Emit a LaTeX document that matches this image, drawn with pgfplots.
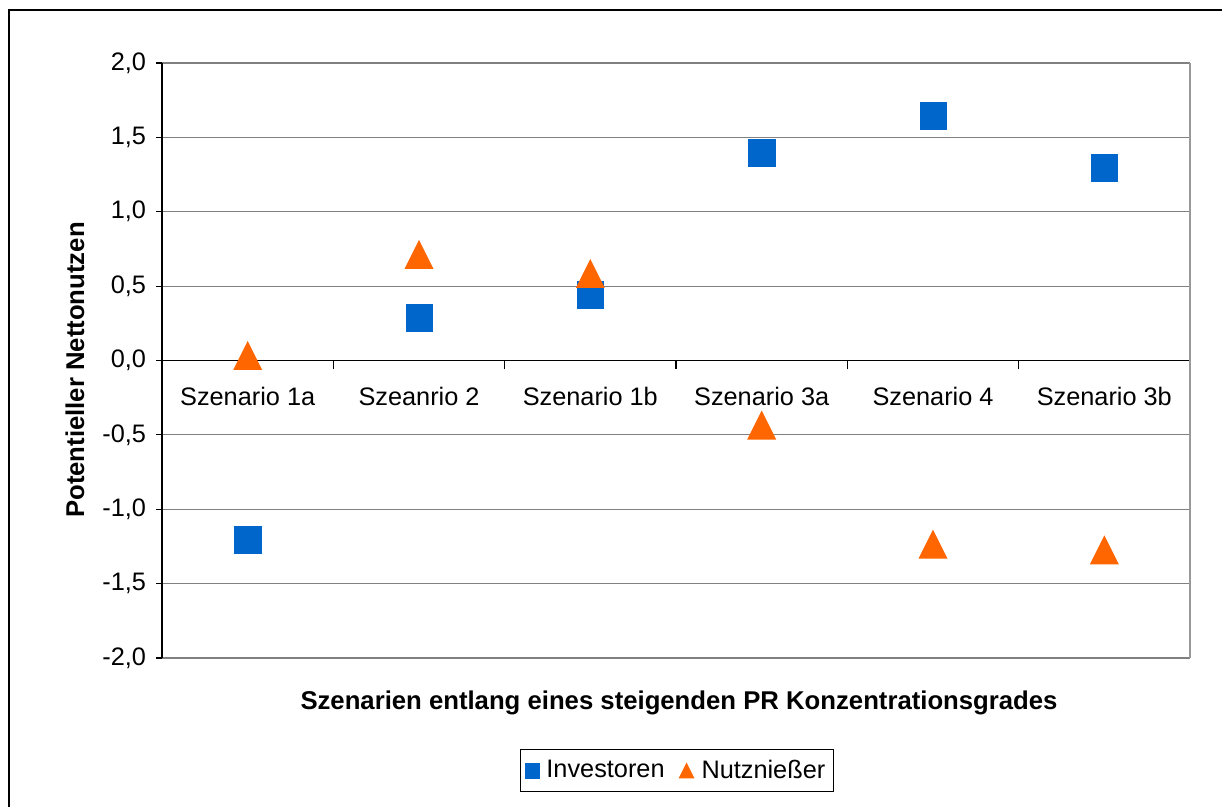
\documentclass[border=0pt]{standalone}
\usepackage{fontspec}
\setmainfont{Liberation Sans}
\usepackage{pgfplots}
\pgfplotsset{compat=1.18}
\definecolor{inv}{HTML}{0066CC}
\definecolor{nut}{HTML}{FF6600}
\definecolor{gridc}{HTML}{808080}
\pgfdeclareplotmark{etri}{%
  \pgfpathmoveto{\pgfqpoint{0pt}{\pgfplotmarksize}}%
  \pgfpathlineto{\pgfqpoint{\pgfplotmarksize}{-\pgfplotmarksize}}%
  \pgfpathlineto{\pgfqpoint{-\pgfplotmarksize}{-\pgfplotmarksize}}%
  \pgfpathclose\pgfusepathqfill}
\newcommand\tfont{\fontsize{12.7}{15}\selectfont}
\begin{document}
\begin{tikzpicture}
\useasboundingbox (-81bp,-74.5bp) rectangle (530bp,329bp);
\fill[white] (-81bp,-74.5bp) rectangle (530bp,329bp);
\draw[line width=1.4bp] (-76.5bp,-90bp) -- (-76.5bp,324bp) -- (540bp,324bp);
\begin{axis}[
  at={(0,0)}, anchor=south west, scale only axis,
  width=514bp, height=297.5bp,
  xmin=-0.5, xmax=5.5, ymin=-2, ymax=2,
  axis x line=middle, axis y line=left,
  axis line style={-, black, line width=0.6bp},
  ytick={-2,-1.5,...,2},
  ymajorgrids, grid style={gridc, line width=0.6bp},
  major tick length=3bp, minor tick length=4.5bp, tick align=outside,
  tick style={black, line width=0.6bp},
  yticklabel style={font=\tfont, xshift=-1.5bp},
  /pgf/number format/.cd, assume math mode=true, fixed, fixed zerofill, precision=1, use comma, 1000 sep={},
  /pgfplots/.cd,
  xtick={0,1,2,3,4,5},
  xticklabels={Szenario 1a, Szeanrio 2, Szenario 1b, Szenario 3a, Szenario 4, Szenario 3b},
  major x tick style={draw=none},
  minor xtick={0.5,1.5,2.5,3.5,4.5},
  minor x tick style={draw=black, line width=0.6bp},
  xticklabel style={font=\tfont, anchor=base, yshift=-19.75bp},
  legend style={at={(0.501,-0.189)}, anchor=center, legend columns=2, draw=black, line width=0.6bp,
    font=\tfont, inner xsep=2bp, inner ysep=3bp,
    /tikz/every odd column/.append style={column sep=1.5bp},
    /tikz/every even column/.append style={column sep=5bp}},
  legend image code/.code={\draw[#1, /tikz/every mark/.append style={scale=0.55}] plot coordinates {(0.12cm,0cm)};},
  clip=false,
]
\addplot[only marks, mark=square*, mark size=6.65bp, mark options={fill=inv, draw=inv, line width=0.2bp}]
  coordinates {(0,-1.203) (1,0.289) (2,0.444) (3,1.398) (4,1.647) (5,1.297)};
\addlegendentry{Investoren}
\addplot[only marks, mark=etri, mark size=7.25bp, mark options={fill=nut, draw=nut}]
  coordinates {(0,0.034) (1,0.713) (2,0.585) (3,-0.434) (4,-1.234) (5,-1.273)};
\addlegendentry{Nutznießer}
\draw[color=gray!80, line width=1bp] (rel axis cs:1,0) -- (rel axis cs:1,1);
\end{axis}
\node[rotate=90, font=\fontsize{12.9}{15}\selectfont\bfseries] at (-43.5bp,144bp) {Potentieller Nettonutzen};
\node[font=\fontsize{12.9}{15}\selectfont\bfseries] at (258.5bp,-22.5bp) {Szenarien entlang eines steigenden PR Konzentrationsgrades};
\end{tikzpicture}
\end{document}
